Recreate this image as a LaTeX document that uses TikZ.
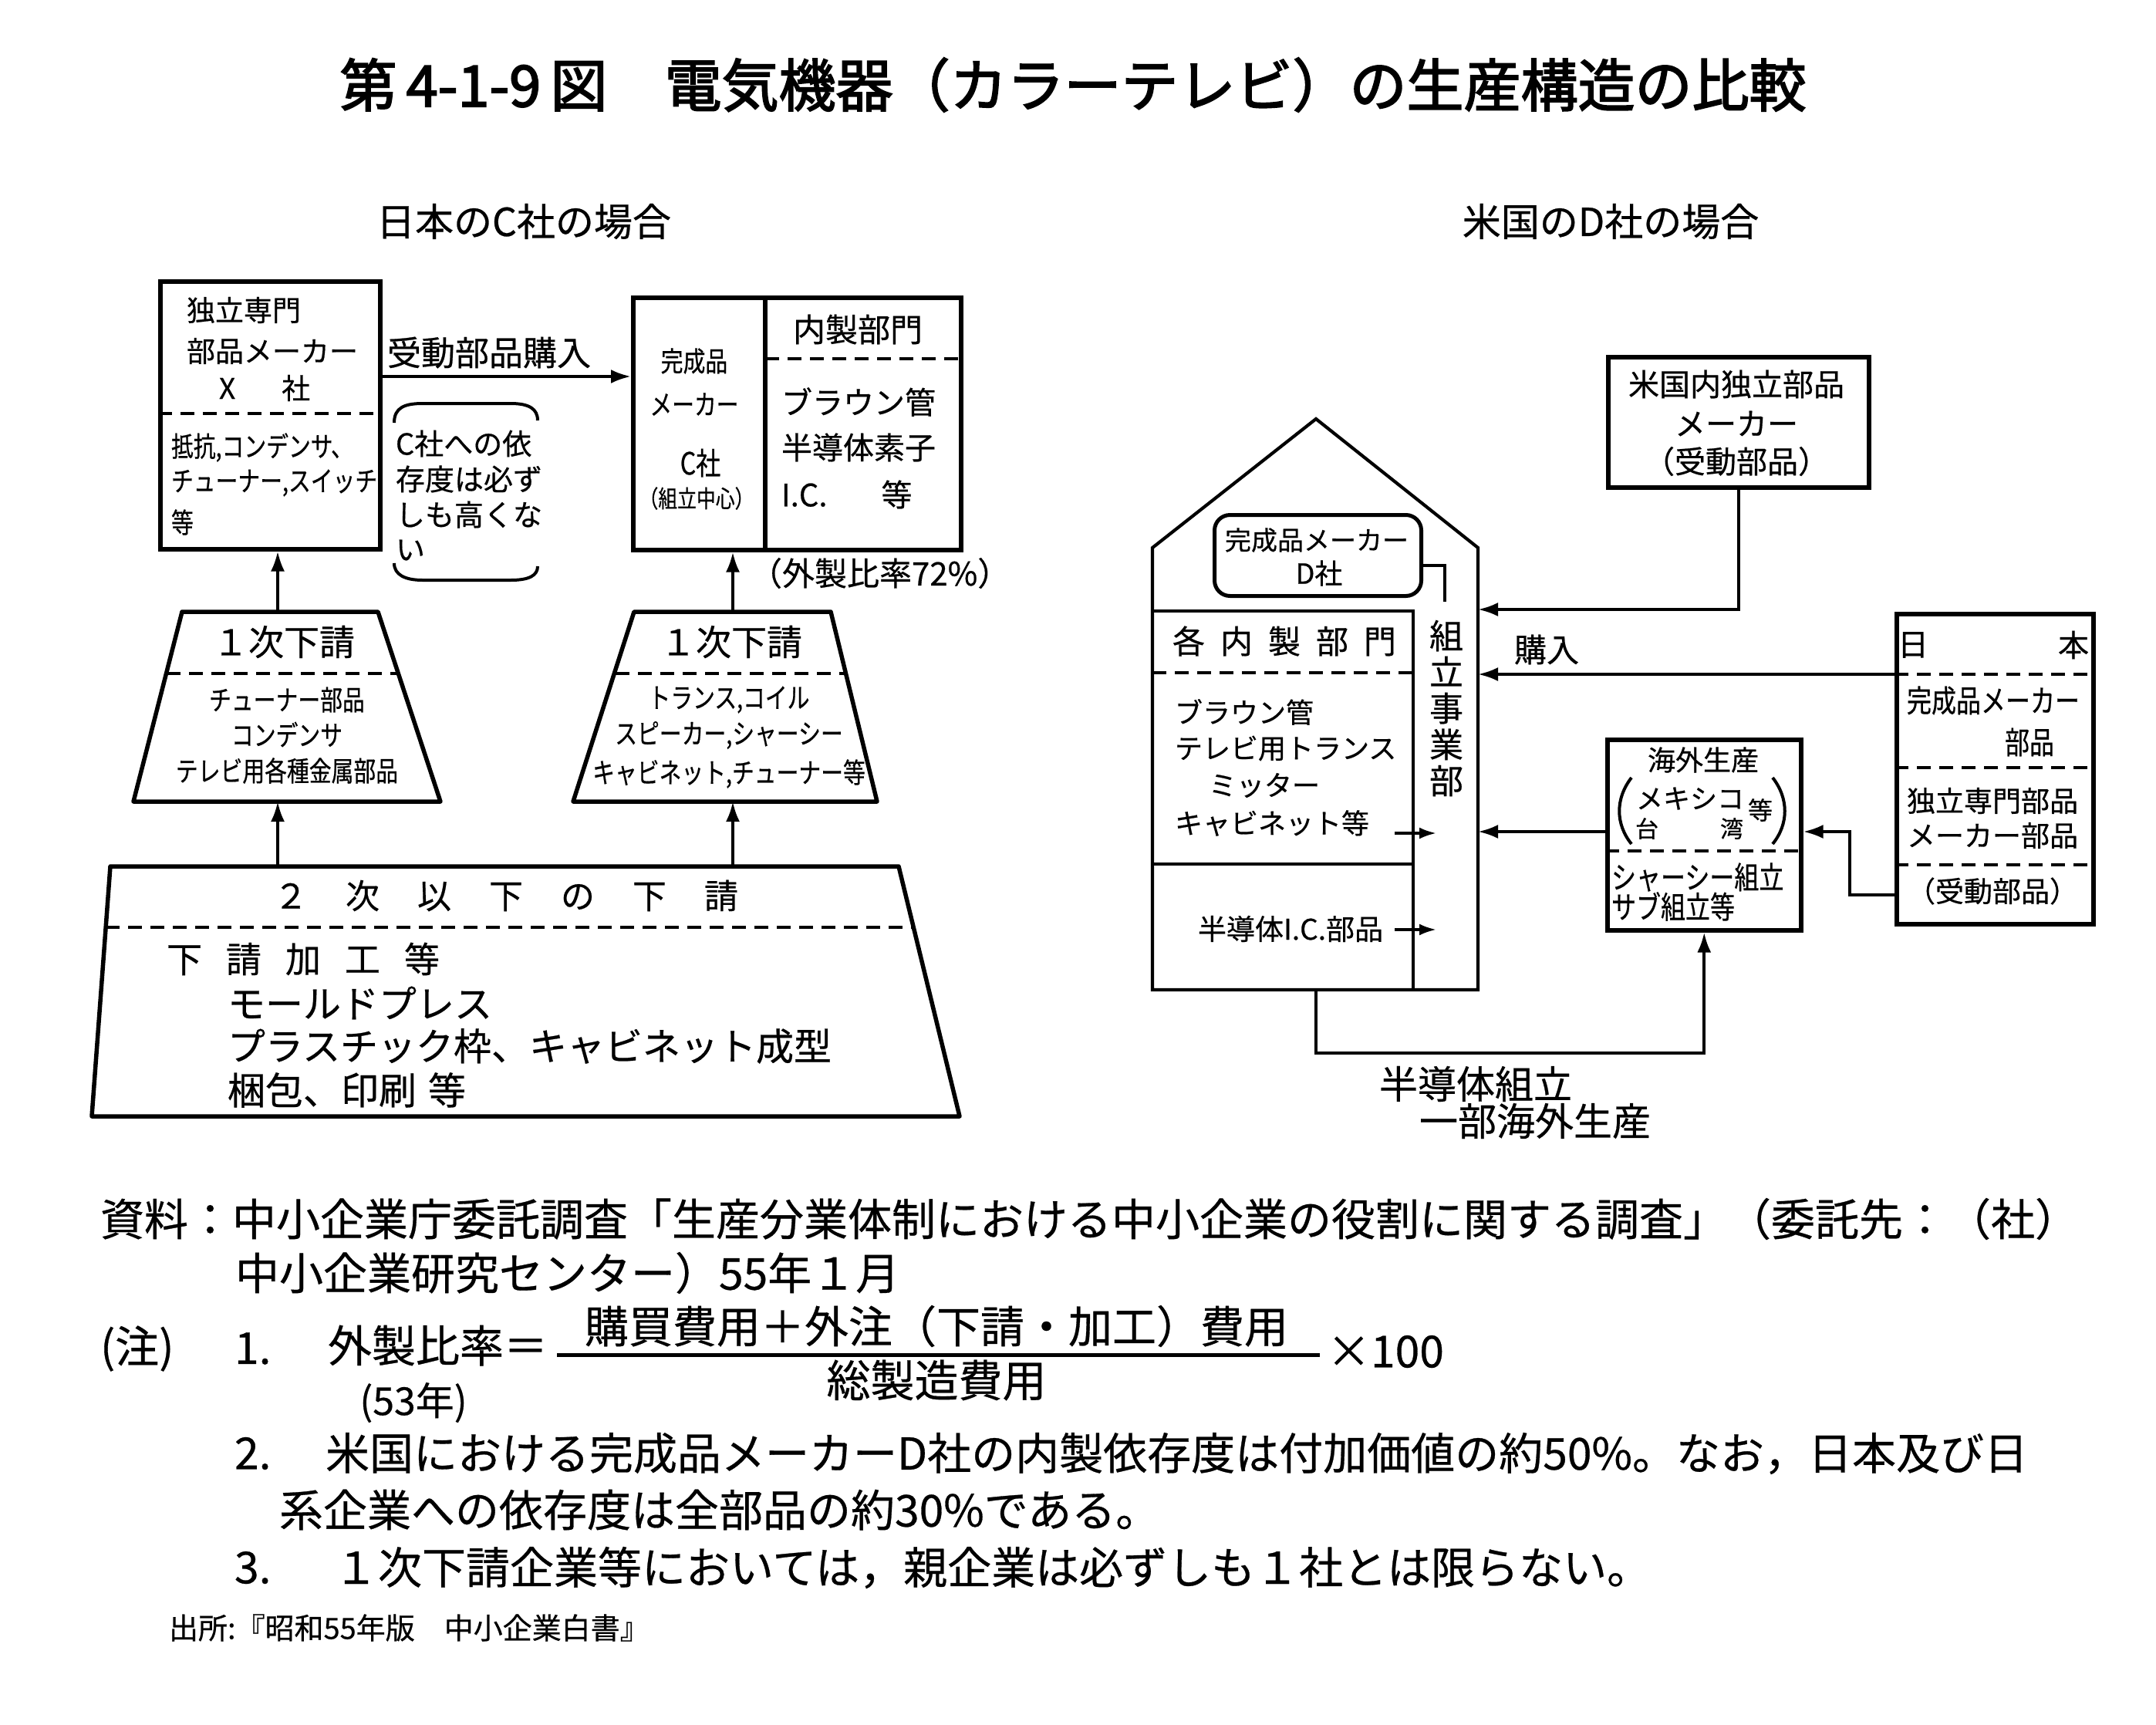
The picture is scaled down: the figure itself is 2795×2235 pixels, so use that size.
\documentclass[tikz,border=0pt]{standalone}
\usepackage{fontspec}
\setmainfont{Noto Sans CJK JP}[FakeBold=0.5]
\newfontfamily\ttl{Noto Sans CJK JP}[FakeBold=2.5]
\newfontfamily\cnd{Noto Sans CJK JP}[FakeStretch=0.8,FakeBold=0.5]
\usetikzlibrary{arrows.meta}
\newlength\fpxl
\newcommand\fpx[1]{\fpxl=\dimexpr 0.28453pt*#1\relax\fontsize{\fpxl}{1.2\fpxl}\selectfont}
\tikzset{
  txt/.style={inner sep=0pt, outer sep=0pt},
  box/.style={draw, line width=0.55mm, inner sep=0pt, anchor=north west},
  dsh/.style={line width=0.4mm, dash pattern=on 1.8mm off 1.1mm},
  conn/.style={line width=0.4mm},
  arr/.style={line width=0.4mm, -{Latex[length=2.6mm,width=1.8mm]}},
  sarr/.style={line width=0.35mm, -{Latex[length=2.2mm,width=1.5mm]}},
  thk/.style={line width=0.55mm, line join=round},
  hse/.style={line width=0.42mm, line join=miter},
}
\begin{document}
\begin{tikzpicture}[x=0.1mm,y=-0.1mm]
\useasboundingbox (0,0) rectangle (2795,2235);

% ---------- title ----------
\node[txt,font={\ttl\fpx{74}}] (title) at (1391,110) {第\,4-1-9\,図　電気機器（カラーテレビ）の生産構造の比較};
\node[txt,font=\fpx{50}] (subA) at (679,287) {日本のC社の場合};
\node[txt,font=\fpx{50}] (subB) at (2088,287) {米国のD社の場合};

% ================= LEFT: Japan C =================
% X box
\node[box, minimum width=28.5mm, minimum height=34.7mm] (X) at (205,362) {};
\draw[dsh] (205,536) -- (490,536);
\node[txt,anchor=west,font=\fpx{37}] (x1) at (242,402) {独立専門};
\node[txt,anchor=west,font=\fpx{37}] (x2) at (242,455) {部品メーカー};
\node[txt,anchor=west,font=\fpx{37}] (x3) at (284,503) {X\hspace{6mm}社};
\node[txt,anchor=west,font={\cnd\fpx{36}}] (x4) at (222,580) {抵抗,コンデンサ、};
\node[txt,anchor=west,font={\cnd\fpx{36}}] (x5) at (222,626) {チューナー,スイッチ};
\node[txt,anchor=west,font={\cnd\fpx{36}}] (x6) at (222,677) {等};

% C box
\node[box, minimum width=42.5mm, minimum height=32.7mm] (C) at (818,383) {};
\draw[thk] (992,383) -- (992,710);
\draw[dsh] (992,465) -- (1243,465);
\node[txt,font={\cnd\fpx{36}}] (c1) at (900,468) {完成品};
\node[txt,font={\cnd\fpx{36}}] (c2) at (900,524) {メーカー};
\node[txt,font={\cnd\fpx{40}}] (c3) at (908,600) {C社};
\node[txt,font={\cnd\fpx{31}}] (c4) at (903,646) {（組立中心）};
\node[txt,font=\fpx{42}] (c5) at (1112,427) {内製部門};
\node[txt,anchor=west,font=\fpx{40}] (c6) at (1013,521) {ブラウン管};
\node[txt,anchor=west,font=\fpx{40}] (c7) at (1013,580) {半導体素子};
\node[txt,anchor=west,font=\fpx{40}] (c8) at (1013,641) {I.C.\hspace{7mm}等};

% purchase arrow
\coordinate (pa) at (650,488);
\draw[arr] (X.east |- pa) -- (C.west |- pa);
\node[txt,font=\fpx{44}] (palbl) at (634,457) {受動部品購入};

% bracket note
\draw[conn] (511,548) .. controls (511,528) and (525,523) .. (548,523) -- (662,523) .. controls (686,523) and (697,530) .. (697,545);
\draw[conn] (511,730) .. controls (511,745) and (525,752) .. (548,752) -- (662,752) .. controls (686,752) and (697,746) .. (697,734);
\node[txt,anchor=west,font=\fpx{38}] (n1) at (513,575) {C社への依};
\node[txt,anchor=west,font=\fpx{38}] (n2) at (513,621) {存度は必ず};
\node[txt,anchor=west,font=\fpx{38}] (n3) at (513,667) {しも高くな};
\node[txt,anchor=west,font=\fpx{38}] (n4) at (513,713) {い};

% first-tier trapezoids
\coordinate (LT1) at (236,793); \coordinate (LT2) at (490,793);
\coordinate (LT3) at (571,1039); \coordinate (LT4) at (173,1039);
\draw[thk] (LT1) -- (LT2) -- (LT3) -- (LT4) -- cycle;
\draw[dsh] (216,873) -- (517,873);
\coordinate (RT1) at (822,793); \coordinate (RT2) at (1077,793);
\coordinate (RT3) at (1137,1039); \coordinate (RT4) at (743,1039);
\draw[thk] (RT1) -- (RT2) -- (RT3) -- (RT4) -- cycle;
\draw[dsh] (798,873) -- (1096,873);

\node[txt,font=\fpx{46}] (l1) at (368,832) {１次下請};
\node[txt,font={\cnd\fpx{36}}] (l2) at (372,907) {チューナー部品};
\node[txt,font={\cnd\fpx{36}}] (l3) at (372,952) {コンデンサ};
\node[txt,font={\cnd\fpx{36}}] (l4) at (372,999) {テレビ用各種金属部品};
\node[txt,font=\fpx{46}] (r1) at (948,832) {１次下請};
\node[txt,font={\cnd\fpx{36}}] (r2) at (945,907) {トランス,コイル};
\node[txt,font={\cnd\fpx{36}}] (r3) at (945,953) {スピーカー,シャーシー};
\node[txt,font={\cnd\fpx{36}}] (r4) at (945,1003) {キャビネット,チューナー等};

% up arrows
\coordinate (ua) at (360,793);
\coordinate (ub) at (950,793);
\draw[arr] (ua) -- (ua |- X.south);
\draw[arr] (ub) -- (ub |- C.south);
\node[txt,anchor=west,font=\fpx{42}] (ratio) at (972,743) {（外製比率72\%）};

% bottom trapezoid
\coordinate (BT1) at (143,1123); \coordinate (BT2) at (1165,1123);
\coordinate (BT3) at (1244,1447); \coordinate (BT4) at (119,1447);
\draw[thk] (BT1) -- (BT2) -- (BT3) -- (BT4) -- cycle;
\draw[dsh] (137,1202) -- (1184,1202);
\draw[arr] (ua |- BT1) -- (ua |- LT4);
\draw[arr] (ub |- BT1) -- (ub |- RT4);
\node[txt,anchor=west,font=\fpx{44}] (b1) at (355,1161) {２\hspace{4.9mm}次\hspace{4.9mm}以\hspace{4.9mm}下\hspace{4.9mm}の\hspace{4.9mm}下\hspace{4.9mm}請};
\node[txt,anchor=west,font=\fpx{46}] (b2) at (216,1243) {下\hspace{3.1mm}請\hspace{3.1mm}加\hspace{3.1mm}工\hspace{3.1mm}等};
\node[txt,anchor=west,font=\fpx{49}] (b3) at (295,1300) {モールドプレス};
\node[txt,anchor=west,font=\fpx{49}] (b4) at (295,1356) {プラスチック枠、キャビネット成型};
\node[txt,anchor=west,font=\fpx{49}] (b5) at (295,1413) {梱包、印刷\hspace{1.5mm}等};

% ================= RIGHT: US D =================
\coordinate (H1) at (1494,1283); \coordinate (H2) at (1494,710);
\coordinate (Hap) at (1706,543); \coordinate (H4) at (1916,710);
\coordinate (H5) at (1916,1283);
\draw[hse] (H1) -- (H2) -- (Hap) -- (H4) -- (H5) -- cycle;
\draw[hse] (1494,792) -- (1832,792) -- (1832,1283);
\draw[dsh] (1494,872) -- (1832,872);
\draw[hse] (1494,1120) -- (1832,1120);

\node[draw, line width=0.5mm, rounded corners=2mm, inner sep=0pt, anchor=north west,
      minimum width=26.8mm, minimum height=10.5mm] (D) at (1572,665) {};
\node[txt,font=\fpx{34}] (d1) at (1707,700) {完成品メーカー};
\node[txt,font=\fpx{36}] (d2) at (1710,743) {D社};
\coordinate (dk) at (1873,780);
\coordinate (dk0) at (1840,733);
\draw[conn] (dk0) -| (dk);
\node[txt,align=center,font={\fontsize{12.5pt}{13.37pt}\selectfont}] (kumi) at (1875,918) {組\\立\\事\\業\\部};

\node[txt,anchor=west,font=\fpx{42}] (h1) at (1520,831) {各\hspace{2mm}内\hspace{2mm}製\hspace{2mm}部\hspace{2mm}門};
\node[txt,anchor=west,font=\fpx{36}] (h2) at (1523,923) {ブラウン管};
\node[txt,anchor=west,font=\fpx{36}] (h3) at (1523,970) {テレビ用トランス};
\node[txt,anchor=west,font=\fpx{36}] (h4) at (1567,1018) {ミッター};
\node[txt,anchor=west,font=\fpx{36}] (h5) at (1523,1067) {キャビネット等};
\node[txt,anchor=west,font=\fpx{37}] (h6) at (1553,1204) {半導体I.C.部品};
\coordinate (s1a) at (1808,1080); \coordinate (s1b) at (1862,1080);
\coordinate (s2a) at (1808,1205); \coordinate (s2b) at (1862,1205);
\draw[sarr] (s1a) -- (s1b);
\draw[sarr] (s2a) -- (s2b);

% US parts maker
\node[box, minimum width=33.8mm, minimum height=16.9mm] (US) at (2082,460) {};
\node[txt,font=\fpx{40}] (u1) at (2251,498) {米国内独立部品};
\node[txt,font=\fpx{40}] (u2) at (2251,549) {メーカー};
\node[txt,font=\fpx{40}] (u3) at (2251,598) {（受動部品）};
\coordinate (hR1) at (1916,790);
\draw[arr] (US.south) |- (hR1);

% Japan box
\node[box, minimum width=25.5mm, minimum height=40.2mm] (J) at (2456,793) {};
\draw[dsh] (2456,874) -- (2711,874);
\draw[dsh] (2456,995) -- (2711,995);
\draw[dsh] (2456,1121) -- (2711,1121);
\node[txt,font=\fpx{40}] (j1) at (2480,836) {日};
\node[txt,font=\fpx{40}] (j2) at (2688,836) {本};
\node[txt,font={\cnd\fpx{40}}] (j3) at (2584,908) {完成品メーカー};
\node[txt,font={\cnd\fpx{40}}] (j4) at (2631,962) {部品};
\node[txt,font=\fpx{37}] (j5) at (2583,1038) {独立専門部品};
\node[txt,font=\fpx{37}] (j6) at (2583,1083) {メーカー部品};
\node[txt,font=\fpx{37}] (j7) at (2583,1155) {（受動部品）};
\coordinate (hR2) at (1916,874);
\draw[arr] (J.west |- hR2) -- (hR2);
\node[txt,font=\fpx{42}] (buy) at (2005,842) {購入};

% overseas box
\node[box, minimum width=25.1mm, minimum height=24.7mm] (OS) at (2081,956) {};
\draw[dsh] (2081,1103) -- (2332,1103);
\node[txt,font=\fpx{36}] (o1) at (2208,985) {海外生産};
\draw[conn] (2115,1008) .. controls (2094,1035) and (2094,1068) .. (2115,1094);
\draw[conn] (2298,1008) .. controls (2319,1035) and (2319,1068) .. (2298,1094);
\node[txt,anchor=west,font=\fpx{35}] (o2) at (2121,1035) {メキシコ};
\node[txt,font=\fpx{32}] (o3) at (2282,1050) {等};
\node[txt,font=\fpx{30}] (o4) at (2135,1074) {台};
\node[txt,font=\fpx{30}] (o5) at (2245,1074) {湾};
\node[txt,anchor=west,font={\cnd\fpx{40}}] (o6) at (2089,1137) {シャーシー組立};
\node[txt,anchor=west,font={\cnd\fpx{40}}] (o7) at (2089,1175) {サブ組立等};

\coordinate (hR3) at (1916,1078);
\coordinate (ov) at (2333,1078);
\draw[arr] (OS.west |- hR3) -- (hR3);
\coordinate (jk) at (2398,1160);
\draw[arr] (J.west |- jk) -- (jk) |- (OS.east |- ov);

\coordinate (hB) at (1706,1283);
\coordinate (hB2) at (1706,1365);
\draw[arr] (hB) -- (hB2) -| (OS.south);
\node[txt,anchor=west,font=\fpx{50}] (sa1) at (1788,1405) {半導体組立};
\node[txt,anchor=west,font=\fpx{50}] (sa2) at (1840,1453) {一部海外生産};

% ================= notes =================
\node[txt,anchor=west,font=\fpx{57}] (m1) at (130,1580) {資料：中小企業庁委託調査「生産分業体制における中小企業の役割に関する調査」（委託先：（社）};
\node[txt,anchor=west,font=\fpx{57}] (m2) at (305,1650) {中小企業研究センター）55年１月};
\node[txt,anchor=west,font=\fpx{57}] (m3) at (130,1748) {(注)};
\node[txt,anchor=west,font=\fpx{57}] (m4) at (304,1748) {1.};
\node[txt,anchor=west,font=\fpx{57}] (m5) at (425,1744) {外製比率＝};
\node[txt,font=\fpx{50}] (m6) at (536,1818) {(53年)};
\coordinate (fr1) at (722,1756); \coordinate (fr2) at (1711,1756);
\draw[line width=0.5mm] (fr1) -- (fr2);
\node[txt,font=\fpx{57}] (m7) at (1214,1719) {購買費用＋外注（下請・加工）費用};
\node[txt,font=\fpx{57}] (m8) at (1214,1789) {総製造費用};
\node[txt,anchor=west,font=\fpx{57}] (m9) at (1720,1752) {×100};
\node[txt,anchor=west,font=\fpx{57}] (m10) at (304,1884) {2.};
\node[txt,anchor=west,font=\fpx{57}] (m11) at (422,1884) {米国における完成品メーカーD社の内製依存度は付加価値の約50\%。なお，日本及び日};
\node[txt,anchor=west,font=\fpx{57}] (m12) at (362,1957) {系企業への依存度は全部品の約30\%である。};
\node[txt,anchor=west,font=\fpx{57}] (m13) at (304,2032) {3.};
\node[txt,anchor=west,font=\fpx{57}] (m14) at (433,2032) {１次下請企業等においては，親企業は必ずしも１社とは限らない。};
\node[txt,anchor=west,font=\fpx{38}] (src) at (219,2110) {出所:『昭和55年版　中小企業白書』};
\end{tikzpicture}
\end{document}
